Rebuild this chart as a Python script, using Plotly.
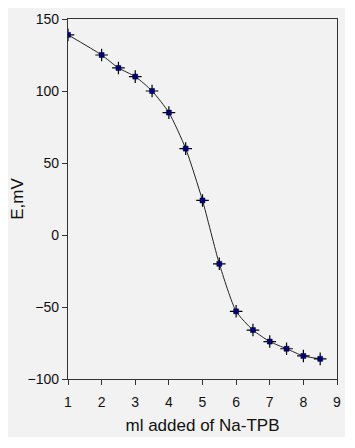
import plotly.graph_objects as go

volume_ml = [1, 2, 2.5, 3, 3.5, 4, 4.5, 5, 5.5, 6, 6.5, 7, 7.5, 8, 8.5]
potential_mv = [139, 125, 116, 110, 100, 85, 60, 24, -20, -53, -66, -74, -79, -84, -86]
x_ticks = [1, 2, 3, 4, 5, 6, 7, 8, 9]
y_ticks = [-100, -50, 0, 50, 100, 150]

FONT = "Liberation Sans, Arial"

fig = go.Figure()
fig.add_trace(go.Scatter(x=volume_ml, y=potential_mv, mode="lines",
                         line=dict(shape="spline", smoothing=0.6, color="#222222", width=1),
                         hoverinfo="skip", showlegend=False))
fig.add_trace(go.Scatter(x=volume_ml, y=potential_mv, mode="markers",
                         marker=dict(symbol="cross-thin", size=9, line=dict(color="#000000", width=1.2)),
                         hoverinfo="skip", showlegend=False))
fig.add_trace(go.Scatter(x=volume_ml, y=potential_mv, mode="markers",
                         marker=dict(symbol="square", size=5, color="#00007a", line=dict(color="#000033", width=0.5)),
                         showlegend=False))

fig.add_shape(type="rect", xref="paper", yref="paper", x0=-0.223, x1=1.0297, y0=-0.1611, y1=1.0306,
              fillcolor="#f2f2f2", line=dict(width=0), layer="below")

axis_common = dict(showgrid=False, zeroline=False, showline=True, linecolor="#333333", linewidth=1.3,
                   mirror=True, ticks="outside", ticklen=5, tickcolor="#333333",
                   tickfont=dict(family=FONT, size=14, color="#111111"))

fig.update_xaxes(range=[1, 9], tickvals=x_ticks, ticklabelstandoff=5,
                 title=dict(text="ml added of Na-TPB", standoff=10,
                            font=dict(family=FONT, size=17, color="#111111")), **axis_common)
fig.update_yaxes(range=[-100, 150], tickvals=y_ticks, ticklabelstandoff=0,
                 title=dict(text="E,mV", standoff=4,
                            font=dict(family=FONT, size=17, color="#111111")), **axis_common)

fig.update_layout(width=347, height=440, margin=dict(l=60, r=18, t=11, b=69, autoexpand=False),
                  paper_bgcolor="#ffffff", plot_bgcolor="#f2f2f2")

fig.write_html("out.html")
